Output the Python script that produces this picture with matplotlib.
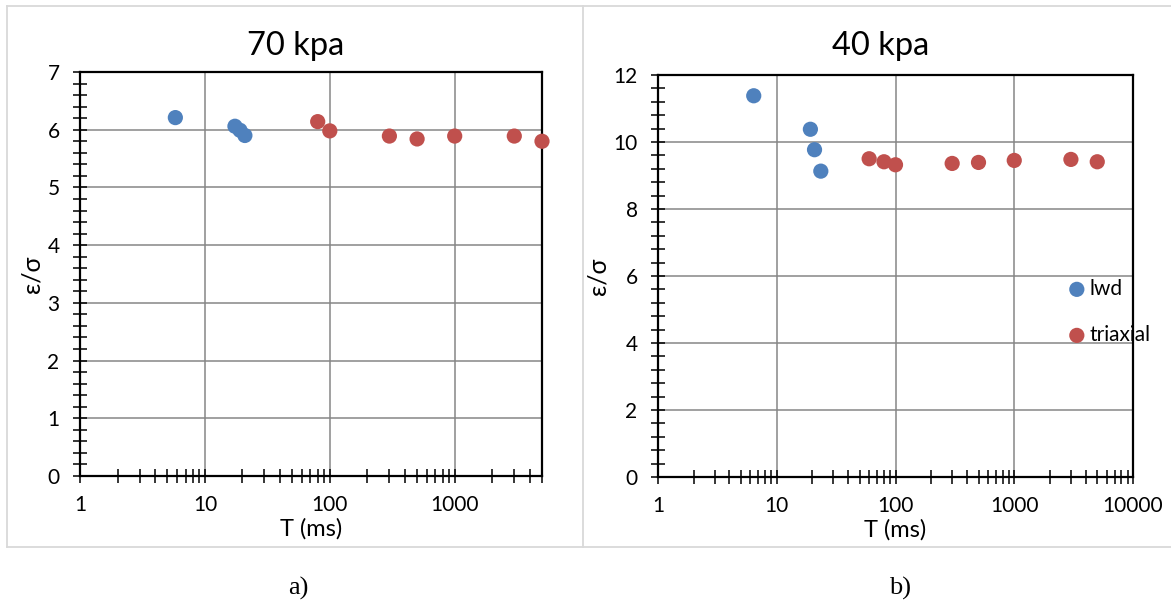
import matplotlib
matplotlib.use("Agg")
import matplotlib.pyplot as plt
from matplotlib.lines import Line2D
from matplotlib.ticker import FixedLocator, MultipleLocator, LogLocator, NullFormatter

# ---- data ----
lwd_70_T = [5.8, 17.4, 19.1, 20.9]
lwd_70_r = [6.21, 6.06, 5.99, 5.90]
tri_70_T = [80, 100, 300, 500, 1000, 3000, 5000]
tri_70_r = [6.14, 5.98, 5.89, 5.84, 5.89, 5.89, 5.80]

lwd_40_T = [6.4, 19.2, 20.8, 23.5]
lwd_40_r = [11.38, 10.38, 9.77, 9.13]
tri_40_T = [60, 80, 100, 300, 500, 1000, 3000, 5000]
tri_40_r = [9.50, 9.41, 9.32, 9.36, 9.39, 9.45, 9.48, 9.41]

titles = ["70 kpa", "40 kpa"]
captions = ["a)", "b)"]
series_names = ["lwd", "triaxial"]
x_label = "T (ms)"
y_label = "ε/σ"

BLUE = "#4F81BD"
RED = "#C0504D"
GRID = "#868686"
FRAME = "#D9D9D9"
FONT = ["Lato", "DejaVu Sans"]

W, H = 1171, 609
fig = plt.figure(figsize=(W / 100, H / 100), dpi=100)
fig.patch.set_facecolor("white")


def fig_line(xs, ys):
    fig.add_artist(Line2D([x / W for x in xs], [1 - y / H for y in ys],
                          transform=fig.transFigure, color=FRAME, linewidth=1.3))


# light grey chart-area frames
top, bottom = 6, 547
fig_line([7, W + 5], [top, top])
fig_line([7, W + 5], [bottom, bottom])
fig_line([7, 7], [top, bottom])
fig_line([583, 583], [top, bottom])

ax1 = fig.add_axes([80 / W, 1 - 476 / H, 462 / W, 404 / H])
ax2 = fig.add_axes([658 / W, 1 - 477 / H, 475 / W, 402 / H])


def style(ax, xmax, ymax, ystep, yminor, xticks):
    ax.set_xscale("log")
    ax.set_xlim(1, xmax)
    ax.set_ylim(0, ymax)
    ax.xaxis.set_major_locator(FixedLocator(xticks))
    ax.set_xticklabels([str(t) for t in xticks])
    ax.xaxis.set_minor_locator(LogLocator(base=10, subs=range(2, 10), numticks=20))
    ax.xaxis.set_minor_formatter(NullFormatter())
    ax.yaxis.set_major_locator(MultipleLocator(ystep))
    ax.yaxis.set_minor_locator(MultipleLocator(yminor))
    ax.grid(True, which="major", color=GRID, linewidth=1.1)
    ax.set_axisbelow(True)
    for s in ax.spines.values():
        s.set_linewidth(1.6)
        s.set_color("black")
    ax.tick_params(which="both", direction="inout", length=9.5, width=1.1,
                   color="black", labelsize=15, top=False, right=False)
    ax.tick_params(axis="y", which="both", pad=10)
    ax.tick_params(axis="x", which="both", pad=9)
    for lab in ax.get_xticklabels() + ax.get_yticklabels():
        lab.set_family(FONT)
    ax.set_xlabel(x_label, fontsize=17, family=FONT, labelpad=2)
    ax.set_ylabel(y_label, fontsize=18, family=FONT, labelpad=3)


style(ax1, 5000, 7, 1, 0.2, [1, 10, 100, 1000])
style(ax2, 10000, 12, 2, 0.4, [1, 10, 100, 1000, 10000])

ms = 120
ax1.scatter(lwd_70_T, lwd_70_r, s=ms, color=BLUE, edgecolors="none", zorder=3,
            clip_on=False, label=series_names[0])
ax1.scatter(tri_70_T, tri_70_r, s=ms, color=RED, edgecolors="none", zorder=3,
            clip_on=False, label=series_names[1])
ax2.scatter(lwd_40_T, lwd_40_r, s=ms, color=BLUE, edgecolors="none", zorder=3,
            clip_on=False, label=series_names[0])
ax2.scatter(tri_40_T, tri_40_r, s=ms, color=RED, edgecolors="none", zorder=3,
            clip_on=False, label=series_names[1])

# chart titles centred on each chart area
for xc, t in zip([296, 881], titles):
    fig.text(xc / W, 1 - 46 / H, t, ha="center", va="center",
             fontsize=23.5, family=FONT)

leg = ax2.legend(loc="upper left", bbox_to_anchor=(0.862, 0.493), frameon=False,
                 prop={"family": FONT, "size": 15}, handlelength=0.9,
                 handletextpad=0.15, labelspacing=1.25, borderaxespad=0,
                 borderpad=0)
leg.set_zorder(2)

fig.text(298 / W, 1 - 588 / H, captions[0], ha="center", va="center",
         fontsize=19, family="Liberation Serif")
fig.text(900 / W, 1 - 588 / H, captions[1], ha="center", va="center",
         fontsize=19, family="Liberation Serif")

fig.savefig("out.png", dpi=100)
